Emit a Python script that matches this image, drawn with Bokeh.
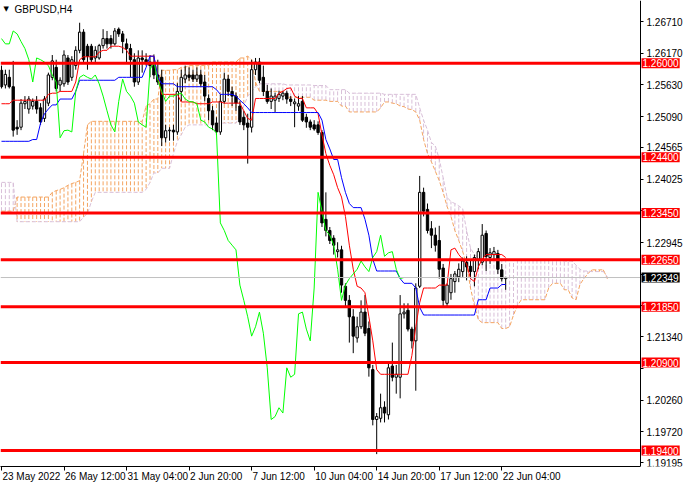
from bokeh.plotting import figure
from bokeh.models import Range1d, FixedTicker, PrintfTickFormatter, Label, LinearAxis
from bokeh.embed import file_html
from bokeh.resources import INLINE

symbol_title = "GBPUSD,H4"
date_ticks = [0, 16, 32, 48, 64, 80, 96, 112, 128]
date_labels = ["23 May 2022", "26 May 12:00", "31 May 04:00", "2 Jun 20:00", "7 Jun 12:00",
               "10 Jun 04:00", "14 Jun 20:00", "17 Jun 12:00", "22 Jun 04:00"]
price_ticks = [1.26710, 1.26170, 1.25630, 1.25090, 1.24565, 1.24025, 1.23485, 1.22945,
               1.22405, 1.21870, 1.21340, 1.20800, 1.20260, 1.19720, 1.19195]
levels = [1.2600, 1.2440, 1.2345, 1.2265, 1.2185, 1.2090, 1.1940]
last_price = 1.22349
chikou_shift = 26

opens = [1.2588,1.2563,1.2576,1.2560,1.2491,1.2491,1.2531,1.2522,1.2527,1.2535,
         1.2524,1.2506,1.2532,1.2576,1.2593,1.2563,1.2565,1.2609,1.2576,1.2596,
         1.2622,1.2653,1.2629,1.2629,1.2609,1.2609,1.2630,1.2642,1.2642,1.2633,
         1.2658,1.2650,1.2633,1.2625,1.2606,1.2568,1.2609,1.2606,1.2602,1.2596,
         1.2580,1.2576,1.2473,1.2485,1.2486,1.2483,1.2552,1.2573,1.2580,1.2580,
         1.2573,1.2580,1.2568,1.2540,1.2519,1.2498,1.2483,1.2535,1.2573,1.2552,
         1.2544,1.2527,1.2508,1.2498,1.2491,1.2589,1.2602,1.2576,1.2552,1.2535,
         1.2537,1.2540,1.2544,1.2549,1.2539,1.2531,1.2527,1.2535,1.2508,1.2500,
         1.2495,1.2495,1.2482,1.2334,1.2315,1.2302,1.2279,1.2282,1.2220,1.2196,
         1.2168,1.2132,1.2151,1.2176,1.2148,1.2078,1.1993,1.1995,1.2014,1.2001,
         1.2084,1.2065,1.2065,1.2173,1.2179,1.2147,1.2127,1.2220,1.2380,1.2351,
         1.2318,1.2307,1.2298,1.2251,1.2191,1.2209,1.2228,1.2236,1.2245,1.2261,
         1.2254,1.2245,1.2266,1.2261,1.2310,1.2269,1.2274,1.2276,1.2248,1.2233]
highs = [1.2596,1.2589,1.2589,1.2604,1.2503,1.2539,1.2544,1.2544,1.2540,1.2544,
         1.2532,1.2544,1.2584,1.2614,1.2606,1.2576,1.2622,1.2614,1.2612,1.2629,
         1.2669,1.2658,1.2633,1.2633,1.2629,1.2633,1.2658,1.2655,1.2648,1.2660,
         1.2661,1.2655,1.2642,1.2633,1.2617,1.2622,1.2622,1.2617,1.2614,1.2615,
         1.2606,1.2589,1.2495,1.2491,1.2495,1.2566,1.2589,1.2596,1.2593,1.2589,
         1.2593,1.2589,1.2580,1.2547,1.2527,1.2508,1.2547,1.2584,1.2580,1.2560,
         1.2550,1.2535,1.2519,1.2514,1.2606,1.2609,1.2609,1.2596,1.2563,1.2557,
         1.2550,1.2553,1.2553,1.2553,1.2544,1.2540,1.2544,1.2544,1.2514,1.2504,
         1.2503,1.2501,1.2486,1.2380,1.2321,1.2307,1.2295,1.2289,1.2225,1.2205,
         1.2181,1.2168,1.2196,1.2205,1.2160,1.2086,1.2004,1.2037,1.2024,1.2089,
         1.2124,1.2086,1.2205,1.2191,1.2191,1.2151,1.2225,1.2408,1.2388,1.2361,
         1.2331,1.2320,1.2323,1.2258,1.2225,1.2241,1.2246,1.2259,1.2269,1.2271,
         1.2263,1.2274,1.2285,1.2326,1.2315,1.2285,1.2287,1.2282,1.2258,1.2236]
lows = [1.2557,1.2557,1.2557,1.2475,1.2478,1.2486,1.2522,1.2514,1.2521,1.2514,
        1.2495,1.2500,1.2527,1.2571,1.2552,1.2552,1.2560,1.2563,1.2570,1.2589,
        1.2617,1.2599,1.2589,1.2599,1.2602,1.2606,1.2625,1.2625,1.2625,1.2630,
        1.2645,1.2617,1.2601,1.2576,1.2560,1.2563,1.2584,1.2596,1.2576,1.2573,
        1.2563,1.2459,1.2465,1.2468,1.2468,1.2478,1.2535,1.2566,1.2570,1.2568,
        1.2568,1.2560,1.2535,1.2503,1.2486,1.2478,1.2478,1.2531,1.2544,1.2527,
        1.2519,1.2495,1.2486,1.2429,1.2482,1.2580,1.2566,1.2544,1.2531,1.2522,
        1.2517,1.2534,1.2537,1.2531,1.2527,1.2491,1.2519,1.2500,1.2490,1.2486,
        1.2485,1.2478,1.2321,1.2305,1.2292,1.2274,1.2269,1.2209,1.2184,1.2124,
        1.2106,1.2124,1.2147,1.2135,1.2066,1.1983,1.1934,1.1988,1.1988,1.1993,
        1.2058,1.2037,1.2029,1.2165,1.2143,1.2114,1.2042,1.2217,1.2339,1.2310,
        1.2285,1.2279,1.2233,1.2184,1.2184,1.2197,1.2209,1.2227,1.2236,1.2230,
        1.2233,1.2220,1.2249,1.2256,1.2246,1.2258,1.2266,1.2241,1.2228,1.2214]
closes = [1.2560,1.2581,1.2560,1.2486,1.2488,1.2532,1.2535,1.2539,1.2535,1.2522,
          1.2500,1.2539,1.2580,1.2604,1.2557,1.2571,1.2614,1.2568,1.2606,1.2622,
          1.2653,1.2606,1.2612,1.2606,1.2622,1.2630,1.2642,1.2633,1.2633,1.2655,
          1.2650,1.2637,1.2625,1.2606,1.2568,1.2609,1.2606,1.2602,1.2596,1.2580,
          1.2568,1.2473,1.2485,1.2486,1.2483,1.2552,1.2576,1.2580,1.2576,1.2573,
          1.2580,1.2565,1.2544,1.2519,1.2495,1.2483,1.2535,1.2573,1.2552,1.2544,
          1.2532,1.2500,1.2495,1.2491,1.2589,1.2602,1.2571,1.2552,1.2535,1.2544,
          1.2544,1.2547,1.2549,1.2539,1.2535,1.2534,1.2531,1.2503,1.2500,1.2491,
          1.2488,1.2482,1.2328,1.2315,1.2298,1.2290,1.2282,1.2222,1.2196,1.2168,
          1.2135,1.2151,1.2176,1.2140,1.2081,1.1993,1.1998,1.2013,1.2004,1.2081,
          1.2065,1.2070,1.2173,1.2176,1.2147,1.2127,1.2217,1.2380,1.2348,1.2315,
          1.2307,1.2290,1.2249,1.2196,1.2222,1.2233,1.2241,1.2249,1.2263,1.2253,
          1.2245,1.2269,1.2279,1.2307,1.2271,1.2277,1.2279,1.2249,1.2233,1.2235]
tenkan = [1.2531,1.2531,1.2531,1.2537,1.2537,1.2537,1.2537,1.2537,1.2537,1.2537,
          1.2537,1.2537,1.2547,1.2549,1.2549,1.2552,1.2552,1.2552,1.2552,1.2568,
          1.2606,1.2611,1.2611,1.2611,1.2611,1.2619,1.2622,1.2622,1.2629,1.2629,
          1.2629,1.2627,1.2622,1.2612,1.2612,1.2612,1.2612,1.2612,1.2612,1.2612,
          1.2576,1.2547,1.2547,1.2547,1.2547,1.2547,1.2534,1.2534,1.2534,1.2534,
          1.2531,1.2531,1.2531,1.2531,1.2534,1.2534,1.2534,1.2532,1.2532,1.2532,
          1.2532,1.2532,1.2519,1.2506,1.2503,1.2540,1.2540,1.2540,1.2540,1.2540,
          1.2540,1.2549,1.2552,1.2557,1.2558,1.2544,1.2540,1.2540,1.2524,1.2524,
          1.2524,1.2514,1.2478,1.2446,1.2426,1.2410,1.2388,1.2372,1.2339,1.2290,
          1.2249,1.2220,1.2217,1.2209,1.2168,1.2127,1.2078,1.2070,1.2070,1.2070,
          1.2070,1.2070,1.2070,1.2070,1.2070,1.2102,1.2151,1.2192,1.2217,1.2217,
          1.2217,1.2217,1.2222,1.2222,1.2222,1.2282,1.2285,1.2274,1.2266,1.2258,
          1.2233,1.2228,1.2253,1.2266,1.2274,1.2274,1.2274,1.2274,1.2274,1.2269]
kijun = [1.2467,1.2467,1.2467,1.2467,1.2467,1.2467,1.2467,1.2467,1.2470,1.2470,
         1.2498,1.2514,1.2522,1.2529,1.2529,1.2539,1.2539,1.2539,1.2539,1.2552,
         1.2571,1.2571,1.2571,1.2571,1.2571,1.2571,1.2571,1.2571,1.2571,1.2571,
         1.2576,1.2576,1.2576,1.2576,1.2576,1.2576,1.2576,1.2593,1.2612,1.2612,
         1.2576,1.2565,1.2565,1.2565,1.2565,1.2560,1.2560,1.2560,1.2560,1.2560,
         1.2560,1.2560,1.2560,1.2560,1.2560,1.2555,1.2547,1.2547,1.2547,1.2547,
         1.2544,1.2537,1.2531,1.2524,1.2516,1.2516,1.2516,1.2516,1.2516,1.2516,
         1.2516,1.2516,1.2516,1.2516,1.2516,1.2516,1.2516,1.2516,1.2516,1.2516,
         1.2516,1.2516,1.2503,1.2470,1.2454,1.2436,1.2436,1.2405,1.2380,1.2361,
         1.2354,1.2354,1.2354,1.2334,1.2307,1.2266,1.2246,1.2246,1.2246,1.2246,
         1.2246,1.2246,1.2233,1.2225,1.2225,1.2225,1.2217,1.2184,1.2171,1.2171,
         1.2171,1.2171,1.2171,1.2171,1.2171,1.2171,1.2171,1.2171,1.2171,1.2171,
         1.2171,1.2171,1.2197,1.2197,1.2197,1.2217,1.2217,1.2217,1.2223,1.2223]
senkou_a = [1.2348,1.2348,1.2348,1.2348,1.2372,1.2372,1.2372,1.2372,1.2372,1.2372,
            1.2372,1.2372,1.2372,1.2380,1.2383,1.2385,1.2388,1.2392,1.2395,1.2397,
            1.2400,1.2446,1.2495,1.2501,1.2501,1.2501,1.2501,1.2501,1.2501,1.2501,
            1.2501,1.2501,1.2501,1.2501,1.2501,1.2501,1.2501,1.2527,1.2531,1.2539,
            1.2539,1.2588,1.2588,1.2588,1.2589,1.2589,1.2593,1.2593,1.2596,1.2596,
            1.2596,1.2596,1.2596,1.2596,1.2602,1.2602,1.2602,1.2602,1.2602,1.2602,
            1.2602,1.2609,1.2609,1.2612,1.2606,1.2568,1.2552,1.2552,1.2552,1.2552,
            1.2552,1.2552,1.2552,1.2542,1.2542,1.2542,1.2542,1.2542,1.2542,1.2542,
            1.2537,1.2537,1.2537,1.2537,1.2535,1.2535,1.2535,1.2527,1.2527,1.2517,
            1.2517,1.2517,1.2517,1.2517,1.2517,1.2517,1.2517,1.2524,1.2534,1.2534,
            1.2532,1.2531,1.2527,1.2526,1.2522,1.2521,1.2517,1.2503,1.2470,1.2446,
            1.2432,1.2416,1.2400,1.2380,1.2356,1.2339,1.2315,1.2298,1.2279,1.2258,
            1.2217,1.2187,1.2163,1.2158,1.2158,1.2158,1.2158,1.2158,1.2148,1.2148,
            1.2151,1.2171,1.2187,1.2197,1.2197,1.2197,1.2197,1.2197,1.2197,1.2197,
            1.2217,1.2225,1.2225,1.2225,1.2214,1.2214,1.2200,1.2197,1.2223,1.2233,
            1.2241,1.2248,1.2248,1.2248,1.2248,1.2233]
senkou_b = [1.2397,1.2397,1.2397,1.2397,1.2330,1.2330,1.2330,1.2330,1.2330,1.2330,
            1.2330,1.2330,1.2330,1.2330,1.2330,1.2330,1.2330,1.2330,1.2330,1.2330,
            1.2330,1.2338,1.2344,1.2364,1.2380,1.2380,1.2380,1.2380,1.2380,1.2380,
            1.2380,1.2380,1.2380,1.2380,1.2380,1.2380,1.2380,1.2385,1.2397,1.2413,
            1.2413,1.2421,1.2421,1.2421,1.2446,1.2467,1.2478,1.2491,1.2495,1.2495,
            1.2495,1.2495,1.2495,1.2495,1.2498,1.2498,1.2498,1.2498,1.2498,1.2498,
            1.2498,1.2511,1.2527,1.2544,1.2552,1.2560,1.2565,1.2565,1.2565,1.2565,
            1.2565,1.2565,1.2565,1.2563,1.2563,1.2563,1.2563,1.2563,1.2563,1.2563,
            1.2562,1.2562,1.2562,1.2562,1.2555,1.2555,1.2555,1.2555,1.2555,1.2549,
            1.2549,1.2549,1.2549,1.2549,1.2549,1.2549,1.2549,1.2549,1.2547,1.2547,
            1.2547,1.2547,1.2547,1.2547,1.2547,1.2547,1.2547,1.2524,1.2503,1.2486,
            1.2465,1.2459,1.2437,1.2405,1.2372,1.2364,1.2361,1.2357,1.2352,1.2315,
            1.2285,1.2274,1.2269,1.2266,1.2266,1.2266,1.2266,1.2266,1.2266,1.2266,
            1.2266,1.2264,1.2264,1.2264,1.2264,1.2264,1.2264,1.2264,1.2264,1.2264,
            1.2264,1.2264,1.2264,1.2264,1.2263,1.2263,1.2263,1.2256,1.2249,1.2246,
            1.2246,1.2245,1.2245,1.2245,1.2245,1.2236]

FONT = "Liberation Sans"
FRAME_W, FRAME_H = 684, 466
X_MIN, AXIS_X, X_MAX = -0.25, 163.5, 174.75      # chart area | price scale area
Y_MIN, Y_MAX = 1.19129, 1.27069
PX_PER_BAR = FRAME_W / (X_MAX - X_MIN)
PX_PER_PRICE = FRAME_H / (Y_MAX - Y_MIN)
SANDY, THISTLE = "#F4A460", "#D8BFD8"

p = figure(frame_width=FRAME_W, frame_height=FRAME_H,
           x_range=Range1d(X_MIN, X_MAX), y_range=Range1d(Y_MIN, Y_MAX),
           output_backend="svg", toolbar_location=None, y_axis_location=None,
           min_border_left=0, min_border_top=0, min_border_right=0, min_border_bottom=0)
p.outline_line_color = None
p.xgrid.visible = False
p.ygrid.visible = False
p.background_fill_color = "white"
p.border_fill_color = "white"

idx = list(range(len(closes)))
cidx = list(range(len(senkou_a)))

# Kumo hatch columns and edges
kcol = [SANDY if a >= b else THISTLE for a, b in zip(senkou_a, senkou_b)]
p.segment(x0=cidx, y0=senkou_a, x1=cidx, y1=senkou_b, line_color=kcol,
          line_width=1, line_dash="4 2")
p.line(cidx, senkou_a, line_color=SANDY, line_width=1, line_dash="4 2")
p.line(cidx, senkou_b, line_color=THISTLE, line_width=1, line_dash="4 2")

# candles
tops = [max(o, c) for o, c in zip(opens, closes)]
bots = [min(o, c) for o, c in zip(opens, closes)]
fills = ["white" if c >= o else "black" for o, c in zip(opens, closes)]
p.segment(x0=idx, y0=lows, x1=idx, y1=highs, line_color="black", line_width=1)
p.vbar(x=idx, top=tops, bottom=bots, width=0.6, fill_color=fills,
       line_color="black", line_width=1)

# Ichimoku lines
p.line(idx, tenkan, line_color="#FF0000", line_width=1)
p.line(idx, kijun, line_color="#0000FF", line_width=1)
p.line([i - chikou_shift for i in idx[chikou_shift:]], closes[chikou_shift:],
       line_color="#00FF00", line_width=1)

# price line and horizontal levels (chart area only)
p.segment(x0=[X_MIN], y0=[last_price], x1=[AXIS_X], y1=[last_price],
          line_color="#C0C0C0", line_width=1)
p.segment(x0=[X_MIN] * len(levels), y0=levels, x1=[AXIS_X] * len(levels), y1=levels,
          line_color="#FF0000", line_width=3)

# time axis: tick marks at the bars, texts starting just right of them
CW = {" ": 2.78, ":": 2.78, "M": 8.33, "a": 5.56, "y": 5.0, "J": 5.0, "u": 5.56, "n": 5.56}
def text_w(s):
    return sum(CW.get(ch, 5.56) for ch in s)
centers = [round(t + (text_w(s) / 2 + 1) / PX_PER_BAR, 3) for t, s in zip(date_ticks, date_labels)]
xa = p.xaxis[0]
xa.ticker = FixedTicker(ticks=centers, minor_ticks=date_ticks)
xa.major_label_overrides = dict(zip(centers, date_labels))
xa.major_label_text_font = FONT
xa.major_label_text_font_size = "10px"
xa.major_label_text_color = "black"
xa.major_tick_line_color = None
xa.major_tick_out = 4
xa.minor_tick_out = 4
xa.minor_tick_in = 0
xa.minor_tick_line_color = "black"
xa.major_label_standoff = 0
xa.axis_line_color = "black"
xa.bounds = (X_MIN, AXIS_X)

# price axis fixed at the right edge of the chart area;
# scale texts that sit under a level tag are hidden (as on the terminal)
tag_values = levels + [last_price]
hidden = {t: "" for t in price_ticks
          if any(abs(t - v) * PX_PER_PRICE < 7.5 for v in tag_values)}
ya = LinearAxis(fixed_location=AXIS_X, ticker=FixedTicker(ticks=price_ticks),
                formatter=PrintfTickFormatter(format="%.5f"))
ya.major_label_overrides = hidden
ya.major_label_text_font = FONT
ya.major_label_text_font_size = "10px"
ya.major_label_text_color = "black"
ya.major_tick_out = 3
ya.major_tick_in = 0
ya.minor_tick_line_color = None
ya.major_label_standoff = 3
ya.axis_line_color = "black"
p.add_layout(ya, "right")

# level tags on the price scale
lab_props = Label.properties()
def tag(v, bg):
    kw = dict(x=AXIS_X, y=v, x_offset=1, text=f"{v:.5f}", text_font=FONT,
              text_font_size="10px", text_color="white", text_align="left",
              text_baseline="middle", background_fill_color=bg, level="overlay")
    if "padding" in lab_props:
        kw["padding"] = 1
    return Label(**kw)
for v in levels:
    p.add_layout(tag(v, "#FF0000"))
p.add_layout(tag(last_price, "black"))

# symbol title
p.add_layout(Label(x=3, y=1.2692, x_units="screen", text="\u25bc",
                   text_font="DejaVu Sans", text_font_size="7px", text_color="black",
                   text_baseline="middle"))
p.add_layout(Label(x=14, y=1.2692, x_units="screen", text=symbol_title,
                   text_font=FONT, text_font_size="10px", text_color="black",
                   text_baseline="middle"))

open("out.html", "w").write(file_html(p, INLINE))
